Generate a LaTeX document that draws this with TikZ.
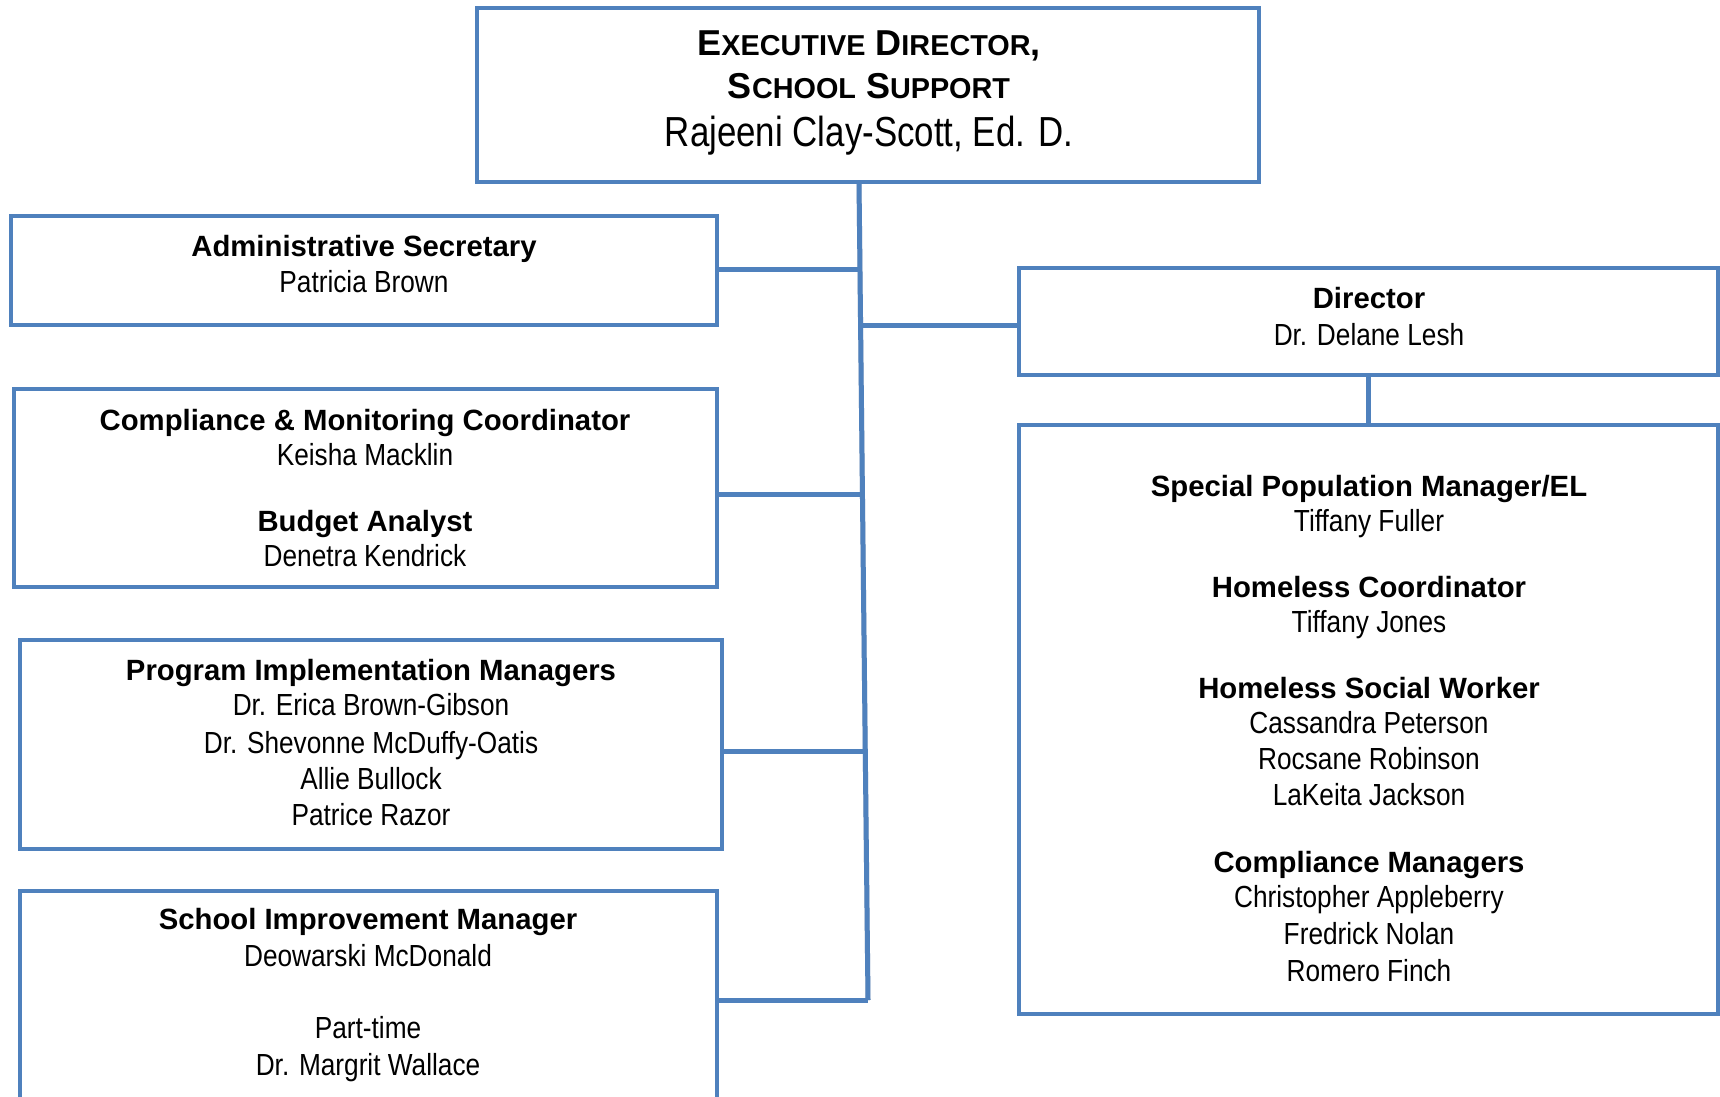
\documentclass[tikz,border=0pt]{standalone}
\usepackage{fontspec}
\setmainfont{Liberation Sans}
\newfontfamily\nfont[FakeStretch=0.86]{Liberation Sans}
\newfontfamily\rfont[FakeStretch=0.83]{Liberation Sans}
\definecolor{bl}{HTML}{4F81BD}
\newcommand\smallc[1]{{\fontsize{28.8}{30}\selectfont #1}}
\begin{document}
\begin{tikzpicture}[x=1pt,y=-1pt,
  box/.style={draw=bl, line width=4.5pt, fill=white, inner sep=0pt, outer sep=0pt, anchor=north west},
  conn/.style={draw=bl, line width=5pt},
  shad/.style={draw=black!16, line width=5pt, shift={(2,3.5)}},
  tt/.style={anchor=base, inner sep=0pt, font=\fontsize{29.3}{35}\selectfont\bfseries},
  nm/.style={anchor=base, inner sep=0pt, font=\fontsize{30.5}{35}\selectfont\nfont},
  hd/.style={anchor=base, inner sep=0pt, font=\fontsize{36}{43}\selectfont\bfseries}]
\useasboundingbox (0,0) rectangle (1720,1096);
\fill[white] (0,0) rectangle (1720,1096);
\clip (0,0) rectangle (1720,1096);
% coordinates of trunk
\coordinate (ttop) at (859,182);
\coordinate (tbot) at (868,1000);
\coordinate (j1) at (860,269);
\coordinate (jd) at (860.6,325);
\coordinate (j2) at (862.4,494);
\coordinate (j3) at (865.3,751);
% boxes
\node[box, minimum width=782, minimum height=174] (ed) at (477,8) {};
\node[box, minimum width=706, minimum height=109] (adm) at (11,216) {};
\node[box, minimum width=703, minimum height=198] (cmp) at (14,389) {};
\node[box, minimum width=702, minimum height=209] (prg) at (20,640) {};
\node[box, minimum width=697, minimum height=260] (sch) at (20,891) {};
\node[box, minimum width=699, minimum height=107] (dir) at (1019,268) {};
\node[box, minimum width=699, minimum height=589] (spp) at (1019,425) {};
% connector shadows
\draw[shad] (ttop) -- (tbot);
\draw[shad] (adm.east |- j1) -- (j1);
\draw[shad] (jd) -- (dir.west |- jd);
\draw[shad] (cmp.east |- j2) -- (j2);
\draw[shad] (prg.east |- j3) -- (j3);
\draw[shad] (sch.east |- tbot) -- (tbot);
\draw[shad] (dir.south) -- (spp.north);
% connectors
\draw[conn] (ttop) -- (tbot);
\draw[conn] (adm.east |- j1) -- (j1);
\draw[conn] (jd) -- (dir.west |- jd);
\draw[conn] (cmp.east |- j2) -- (j2);
\draw[conn] (prg.east |- j3) -- (j3);
\draw[conn] (sch.east |- tbot) -- (tbot);
\draw[conn] (dir.south) -- (spp.north);
% redraw borders over connector shadows
\foreach \b in {ed,adm,cmp,prg,sch,dir,spp} \draw[bl, line width=4.5pt] (\b.north west) rectangle (\b.south east);
% top box text
\node[hd] (h1) at (869,55.6) {E\smallc{XECUTIVE} D\smallc{IRECTOR},};
\node[hd] (h2) at (869,98.4) {S\smallc{CHOOL} S\smallc{UPPORT}};
\node[anchor=base, inner sep=0pt, font=\fontsize{42}{48}\selectfont\rfont] (h3) at (869,146) {Rajeeni Clay-Scott, Ed. D.};
% admin
\node[tt] (a1) at (364,256.2) {Administrative Secretary};
\node[nm] (a2) at (364,292.4) {Patricia Brown};
% compliance
\node[tt] (c1) at (365,430.7) {Compliance \& Monitoring Coordinator};
\node[nm] (c2) at (365,465.8) {Keisha Macklin};
\node[tt] (c3) at (365,531.6) {Budget Analyst};
\node[nm] (c4) at (365,566.7) {Denetra Kendrick};
% program
\node[tt] (p1) at (371,680.7) {Program Implementation Managers};
\node[nm] (p2) at (371,715.9) {Dr. Erica Brown-Gibson};
\node[nm] (p3) at (371,753.2) {Dr. Shevonne McDuffy-Oatis};
\node[nm] (p4) at (371,789.4) {Allie Bullock};
\node[nm] (p5) at (371,825.6) {Patrice Razor};
% school
\node[tt] (s1) at (368,929.8) {School Improvement Manager};
\node[nm] (s2) at (368,966) {Deowarski McDonald};
\node[nm] (s3) at (368,1038.4) {Part-time};
\node[nm] (s4) at (368,1075.7) {Dr. Margrit Wallace};
% director
\node[tt] (d1) at (1369,308.9) {Director};
\node[nm] (d2) at (1369,345.1) {Dr. Delane Lesh};
% special population
\node[tt] (r1) at (1369,496.5) {Special Population Manager/EL};
\node[nm] (r2) at (1369,531.6) {Tiffany Fuller};
\node[tt] (r3) at (1369,597.4) {Homeless Coordinator};
\node[nm] (r4) at (1369,632.5) {Tiffany Jones};
\node[tt] (r5) at (1369,698.3) {Homeless Social Worker};
\node[nm] (r6) at (1369,733.4) {Cassandra Peterson};
\node[nm] (r7) at (1369,769.6) {Rocsane Robinson};
\node[nm] (r8) at (1369,805.8) {LaKeita Jackson};
\node[tt] (r9) at (1369,872.7) {Compliance Managers};
\node[nm] (r10) at (1369,907.8) {Christopher Appleberry};
\node[nm] (r11) at (1369,944.0) {Fredrick Nolan};
\node[nm] (r12) at (1369,981.3) {Romero Finch};
\end{tikzpicture}
\end{document}
